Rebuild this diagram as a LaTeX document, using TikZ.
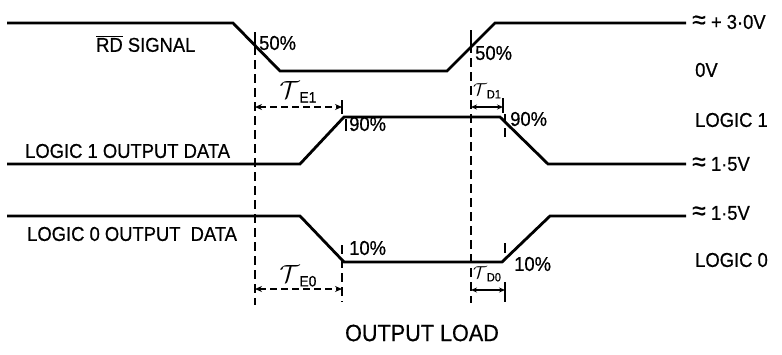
\documentclass[tikz,border=0pt]{standalone}
\usepackage{fontspec}
\setmainfont{Liberation Sans}[FakeStretch=0.92,FakeBold=0.6]
\usetikzlibrary{arrows.meta}
\newcommand{\apx}{{\fontsize{27}{20}\selectfont ≈}}
\begin{document}
\begin{tikzpicture}[x=1pt,y=-1pt,
  sig/.style={line width=2.8pt, line join=miter},
  guide/.style={line width=1.6pt, dash pattern=on 9pt off 5pt},
  tickmark/.style={line width=1.6pt},
  dim/.style={line width=1.5pt, dash pattern=on 7pt off 4pt,
    {Stealth[length=7pt,width=6pt]}-{Stealth[length=7pt,width=6pt]}},
  dimsmall/.style={line width=1.5pt,
    {Stealth[length=6pt,width=5pt]}-{Stealth[length=6pt,width=5pt]}},
  lbl/.style={font=\fontsize{20}{23}\selectfont, inner sep=0pt, anchor=west},
  pct/.style={font=\fontsize{20}{22}\selectfont, inner sep=0pt, anchor=west},
  taul/.style={inner sep=0pt}
]
\useasboundingbox (0,0) rectangle (782,354);

% waveforms
\draw[sig] (7,23) -- (233,23) -- (280,71) -- (447,71) -- (495,23) -- (686,23);
\draw[sig] (7,164) -- (300,164) -- (344,117) -- (500,117) -- (548,164) -- (686,164);
\draw[sig] (7,216) -- (300,216) -- (344,262) -- (502,262) -- (550,216) -- (686,216);

% guide lines
\coordinate (g1t) at (255,32);
\coordinate (g1m) at (255,46);
\coordinate (g1b) at (255,305);
\coordinate (g2t) at (471,30);
\coordinate (g2m) at (471,44);
\coordinate (g2b) at (471,303);
\draw[tickmark] (g1t) -- (g1m);
\draw[guide] (g1m) -- (g1b);
\draw[tickmark] (g2t) -- (g2m);
\draw[guide] (g2m) -- (g2b);

% T_E1
\coordinate (e1a) at (255,107);
\coordinate (e1b) at (342,107);
\draw[dim] (e1a) -- (e1b);
\coordinate (e1t1) at (342,100);
\coordinate (e1t2) at (342,114);
\draw[tickmark] (e1t1) -- (e1t2);
\node[taul] (te1) at (298,92) {\fontsize{24}{24}\selectfont$\mathcal{T}$\raisebox{-4pt}{\fontsize{15}{15}\selectfont E1}};

% 90% left
\coordinate (n1a) at (346,119);
\coordinate (n1b) at (346,131);
\draw[tickmark] (n1a) -- (n1b);
\node[pct] (p90a) at (349,124) {90\%};

% T_D1
\coordinate (d1a) at (471,107);
\coordinate (d1b) at (503,107);
\draw[dimsmall] (d1a) -- (d1b);
\coordinate (d1t1) at (503,98);
\coordinate (d1t2) at (503,113);
\draw[tickmark] (d1t1) -- (d1t2);
\node[taul] (td1) at (487,91) {\fontsize{19}{19}\selectfont$\mathcal{T}$\raisebox{-3pt}{\fontsize{12}{12}\selectfont D1}};

% 90% right
\coordinate (n2a) at (505,114);
\coordinate (n2b) at (505,138);
\draw[guide] (n2a) -- (n2b);
\node[pct] (p90b) at (510,119) {90\%};

% T_E0
\coordinate (e0a) at (255,289);
\coordinate (e0b) at (342,289);
\draw[dim] (e0a) -- (e0b);
\coordinate (e0t1) at (342,245);
\coordinate (e0t2) at (342,302);
\draw[guide] (e0t1) -- (e0t2);
\node[taul] (te0) at (298,276) {\fontsize{24}{24}\selectfont$\mathcal{T}$\raisebox{-4pt}{\fontsize{15}{15}\selectfont E0}};
\node[pct] (p10a) at (349,248) {10\%};

% T_D0
\coordinate (d0a) at (471,290);
\coordinate (d0b) at (505,290);
\draw[dimsmall] (d0a) -- (d0b);
\coordinate (d0t1) at (505,243);
\coordinate (d0t2) at (505,253);
\coordinate (d0t3) at (505,282);
\coordinate (d0t4) at (505,302);
\draw[tickmark] (d0t1) -- (d0t2);
\draw[tickmark] (d0t3) -- (d0t4);
\node[taul] (td0) at (487,274) {\fontsize{19}{19}\selectfont$\mathcal{T}$\raisebox{-3pt}{\fontsize{12}{12}\selectfont D0}};
\node[pct] (p10b) at (514,264) {10\%};

% 50% labels
\node[pct] (p50a) at (259,43) {50\%};
\node[pct] (p50b) at (475,53) {50\%};

% left labels
\node[lbl] (rd) at (96,44) {$\overline{\mbox{RD}}$ SIGNAL};
\node[lbl] (l1) at (25,151) {LOGIC 1 OUTPUT DATA};
\node[lbl] (l0) at (27,234) {LOGIC 0 OUTPUT\hspace{0.25em} DATA};

% right labels
\node[lbl] (v30) at (692,22) {\apx{} + 3·0V};
\node[lbl] (v0) at (695,70) {0V};
\node[lbl] (lg1) at (695,120) {LOGIC 1};
\node[lbl] (v15a) at (692,164) {\apx{} 1·5V};
\node[lbl] (v15b) at (692,213) {\apx{} 1·5V};
\node[lbl] (lg0) at (695,260) {LOGIC 0};

% bottom
\node[inner sep=0pt, font=\fontsize{23.5}{26}\selectfont] (load) at (422,333) {OUTPUT LOAD};
\end{tikzpicture}
\end{document}
